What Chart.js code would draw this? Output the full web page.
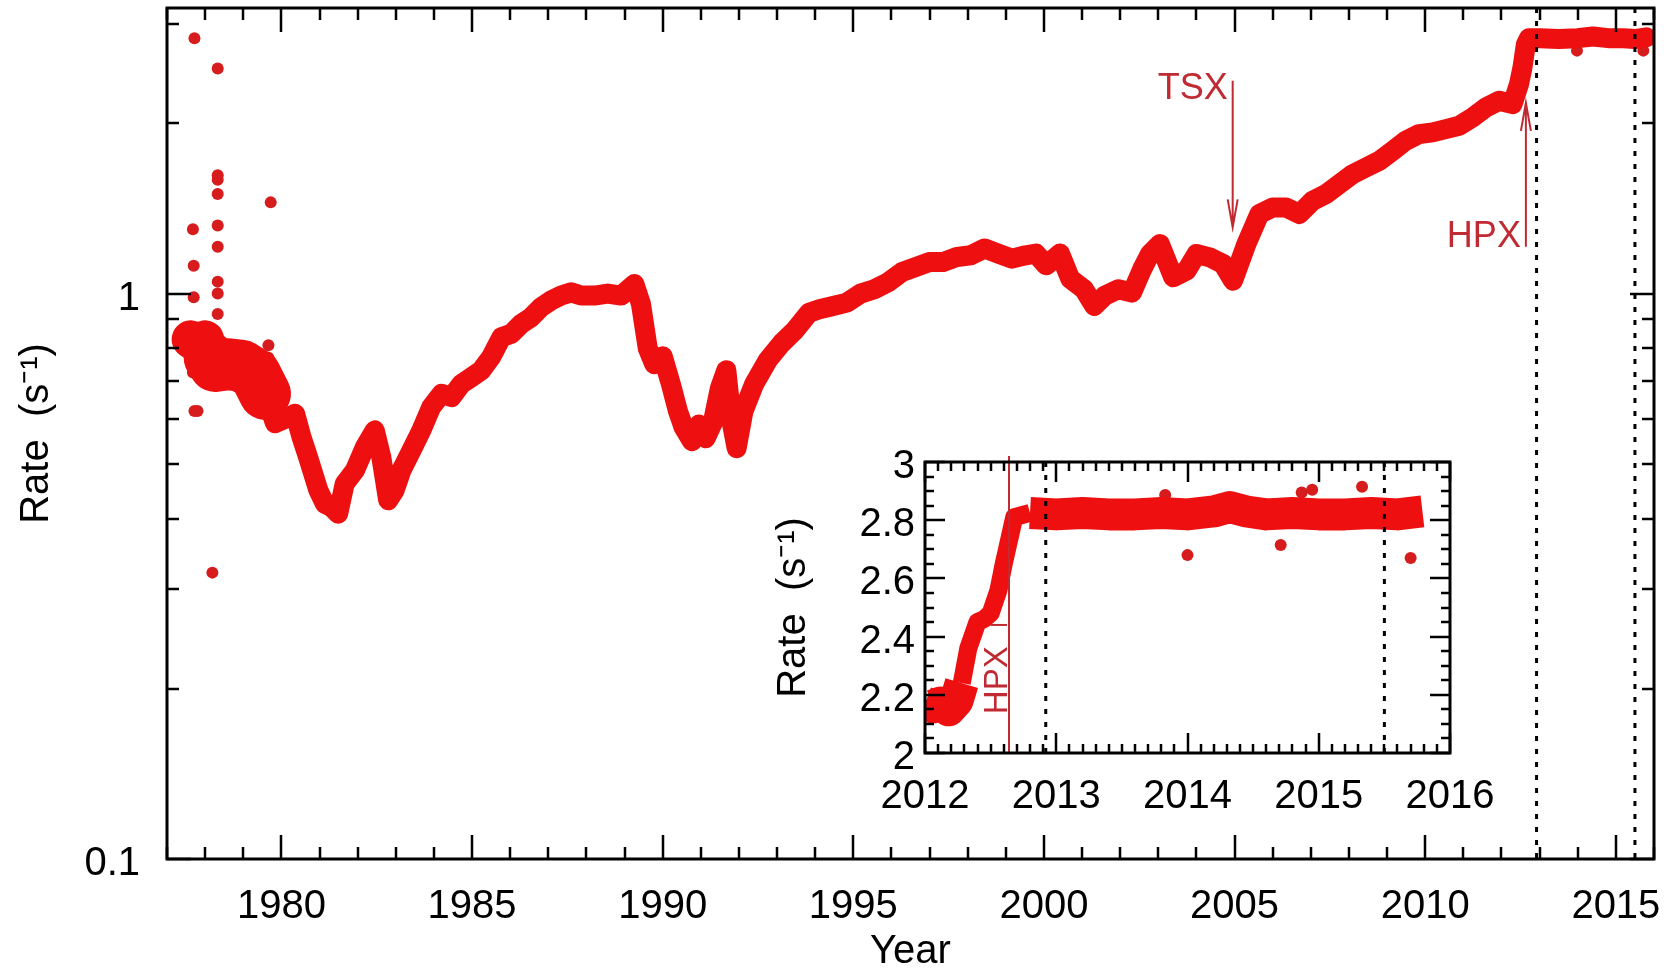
<!DOCTYPE html>
<html>
<head>
<meta charset="utf-8">
<script src="https://cdn.jsdelivr.net/npm/chart.js@4.4.0/dist/chart.umd.min.js"></script>
<style>
  body { margin: 0; background: #fff; }
  #wrap { position: relative; width: 1677px; height: 972px; }
  #main { position: absolute; left: 0; top: 0; }
  #inset { position: absolute; left: 760px; top: 440px; }
</style>
</head>
<body>
<div id="wrap">
  <canvas id="main" width="1677" height="972"></canvas>
  <canvas id="inset" width="760" height="390"></canvas>
</div>
<script>
// ---- main light curve (year, count rate) ----
var bandYears = [1977.62, 1977.74, 1978.0, 1978.12, 1978.26, 1978.61, 1978.96, 1979.31, 1979.57, 1979.83,
  1980.09, 1980.36, 1980.53, 1980.70, 1980.97, 1981.14, 1981.32, 1981.49, 1981.66, 1981.93,
  1982.19, 1982.45, 1982.62, 1982.80, 1982.97, 1983.15, 1983.41, 1983.67, 1983.93, 1984.20,
  1984.46, 1984.72, 1984.98, 1985.24, 1985.50, 1985.77, 1986.03, 1986.29, 1986.55, 1986.81,
  1987.07, 1987.34, 1987.60, 1987.86, 1988.21, 1988.56, 1988.91, 1989.26, 1989.43, 1989.61,
  1989.78, 1990.0, 1990.22, 1990.40, 1990.55, 1990.77, 1990.95, 1991.13, 1991.31, 1991.50,
  1991.67, 1991.82, 1991.94, 1992.12, 1992.40, 1992.76, 1993.12, 1993.48, 1993.84, 1994.11,
  1994.47, 1994.83, 1995.19, 1995.55, 1995.91, 1996.27, 1996.63, 1996.99, 1997.35, 1997.72,
  1998.08, 1998.44, 1998.80, 1999.16, 1999.52, 1999.79, 2000.06, 2000.42, 2000.69, 2001.05,
  2001.32, 2001.59, 2001.95, 2002.31, 2002.58, 2002.78, 2003.04, 2003.39, 2003.74, 2004.00,
  2004.35, 2004.70, 2004.96, 2005.31, 2005.65, 2006.00, 2006.35, 2006.70, 2007.05, 2007.40,
  2007.75, 2008.10, 2008.45, 2008.80, 2009.15, 2009.49, 2009.84, 2010.19, 2010.54, 2010.89,
  2011.24, 2011.59, 2011.94, 2012.29, 2012.46, 2012.55, 2012.64, 2012.72, 2013.0, 2013.5,
  2014.0, 2014.4, 2014.8, 2015.2, 2015.5, 2015.8];
var bandRates = [0.83, 0.82, 0.83, 0.77, 0.745, 0.75, 0.745, 0.72, 0.665, 0.59,
  0.60, 0.613, 0.557, 0.514, 0.449, 0.425, 0.419, 0.408, 0.461, 0.487,
  0.535, 0.573, 0.514, 0.431, 0.449, 0.487, 0.528, 0.573, 0.630, 0.665,
  0.656, 0.692, 0.711, 0.731, 0.772, 0.837, 0.849, 0.884, 0.908, 0.946,
  0.972, 0.992, 1.005, 0.992, 0.992, 1.0, 0.992, 1.04, 0.959, 0.80,
  0.75, 0.775, 0.69, 0.62, 0.58, 0.548, 0.587, 0.555, 0.59, 0.68,
  0.732, 0.587, 0.533, 0.62, 0.692, 0.763, 0.817, 0.863, 0.925, 0.938,
  0.951, 0.964, 1.0, 1.018, 1.047, 1.091, 1.114, 1.137, 1.137, 1.161,
  1.169, 1.202, 1.177, 1.153, 1.169, 1.177, 1.122, 1.177, 1.062, 1.018,
  0.951, 0.991, 1.018, 1.004, 1.106, 1.175, 1.224, 1.069, 1.098, 1.175,
  1.159, 1.128, 1.054, 1.224, 1.383, 1.420, 1.420, 1.383, 1.460, 1.500,
  1.562, 1.627, 1.672, 1.718, 1.789, 1.864, 1.915, 1.928, 1.954, 1.981,
  2.049, 2.134, 2.193, 2.163, 2.347, 2.51, 2.76, 2.83, 2.83, 2.82,
  2.83, 2.85, 2.83, 2.83, 2.82, 2.84];

// isolated points off the band
var outlierYears = [1977.72, 1978.33, 1978.33, 1978.33, 1978.33, 1978.33, 1978.33, 1978.33, 1978.33, 1978.33,
  1979.72, 1977.68, 1977.70, 1977.70, 1977.68, 1977.72, 1977.80, 1978.19, 1979.66, 1979.66,
  1979.66, 1979.66, 2013.98, 2015.72];
var outlierRates = [2.83, 2.50, 1.62, 1.59, 1.50, 1.32, 1.21, 1.05, 1.0, 0.92,
  1.45, 1.30, 1.12, 0.985, 0.725, 0.62, 0.62, 0.321, 0.81, 0.77,
  0.74, 0.70, 2.69, 2.69];

// axis ticks
var xMajorTicks = [1980, 1985, 1990, 1995, 2000, 2005, 2010, 2015];
var xMinorTicks = [];
for (var yr = 1977; yr <= 2016; yr++) if (yr % 5 !== 0) xMinorTicks.push(yr);
var yMajorTicks = [0.1, 1];
var yMinorTicks = [0.2, 0.3, 0.4, 0.5, 0.6, 0.7, 0.8, 0.9, 2, 3];

// dotted markers and the two instrument arrows
var markerYears = [2012.92, 2015.5];
var tsxArrow = { year: 2004.95, from: 2.38, to: 1.31, text: 2.30 };
var hpxArrow = { year: 2012.64, from: 1.21, to: 2.175, text: 1.26 };

// ---- inset 2012-2016 ----
var insetYears = [2012.0, 2012.06, 2012.12, 2012.18, 2012.24, 2012.28, 2012.33, 2012.40, 2012.45, 2012.50,
  2012.56, 2012.60, 2012.64, 2012.68, 2012.8, 2013.0, 2013.2, 2013.4, 2013.6, 2013.8,
  2014.0, 2014.2, 2014.32, 2014.45, 2014.6, 2014.8, 2015.0, 2015.2, 2015.4, 2015.6, 2015.79];
var insetRates = [2.17, 2.16, 2.17, 2.15, 2.18, 2.24, 2.36, 2.45, 2.46, 2.48,
  2.56, 2.65, 2.73, 2.81, 2.825, 2.82, 2.825, 2.82, 2.82, 2.825,
  2.82, 2.83, 2.845, 2.83, 2.82, 2.825, 2.82, 2.82, 2.825, 2.82, 2.83];
var insetOutYears = [2013.83, 2014.0, 2014.71, 2014.87, 2014.95, 2015.33, 2015.70];
var insetOutRates = [2.887, 2.68, 2.715, 2.895, 2.905, 2.915, 2.67];
var insetXTicks = [2012, 2013, 2014, 2015, 2016];
var insetXMinor = [];
for (var m = 2012; m < 2016; m += 0.1) insetXMinor.push(+m.toFixed(1));
var insetYTicks = [2, 2.2, 2.4, 2.6, 2.8, 3];
var insetYMinor = [];
for (var r = 2; r < 3; r += 0.05) insetYMinor.push(+r.toFixed(2));
var insetHpxYear = 2012.64;

var FONT = "'Liberation Sans', Arial, Helvetica, sans-serif";
var RED = '#ee1010';
var DOT = '#d61c1c';
var NOTE = '#c02a32';

function pts(xs, ys) {
  return xs.map(function (x, i) { return { x: x, y: ys[i] }; });
}

// box + inward ticks on all four sides
var framePlugin = {
  id: 'frame',
  afterDatasetsDraw: function (chart, args, o) {
    var ctx = chart.ctx, a = chart.chartArea, sx = chart.scales.x, sy = chart.scales.y;
    ctx.save();
    ctx.strokeStyle = '#000';
    ctx.lineWidth = o.tickWidth;
    ctx.beginPath();
    function xt(vals, len) {
      vals.forEach(function (v) {
        var p = Math.round(sx.getPixelForValue(v));
        ctx.moveTo(p, a.bottom); ctx.lineTo(p, a.bottom - len);
        ctx.moveTo(p, a.top); ctx.lineTo(p, a.top + len);
      });
    }
    function yt(vals, len) {
      vals.forEach(function (v) {
        var p = Math.round(sy.getPixelForValue(v));
        ctx.moveTo(a.left, p); ctx.lineTo(a.left + len, p);
        ctx.moveTo(a.right, p); ctx.lineTo(a.right - len, p);
      });
    }
    xt(o.xMajor, o.majorLen); xt(o.xMinor, o.minorLen);
    yt(o.yMajor, o.majorLen); yt(o.yMinor, o.minorLen);
    ctx.stroke();
    ctx.lineWidth = o.lineWidth;
    ctx.strokeRect(a.left, a.top, a.right - a.left, a.bottom - a.top);
    ctx.restore();
  }
};

function dotted(chart, years) {
  var ctx = chart.ctx, a = chart.chartArea, sx = chart.scales.x;
  ctx.save();
  ctx.strokeStyle = '#000';
  ctx.lineWidth = 3;
  ctx.setLineDash([5, 8]);
  years.forEach(function (v) {
    var p = sx.getPixelForValue(v);
    ctx.beginPath(); ctx.moveTo(p, a.top); ctx.lineTo(p, a.bottom); ctx.stroke();
  });
  ctx.restore();
}

function arrow(ctx, x, y0, y1) {
  var dir = y1 > y0 ? 1 : -1;
  ctx.beginPath();
  ctx.moveTo(x, y0); ctx.lineTo(x, y1);
  ctx.moveTo(x - 5, y1 - dir * 28); ctx.lineTo(x, y1); ctx.lineTo(x + 5, y1 - dir * 28);
  ctx.stroke();
}

var mainMarks = {
  id: 'mainMarks',
  afterDatasetsDraw: function (chart) {
    var ctx = chart.ctx, sx = chart.scales.x, sy = chart.scales.y;
    dotted(chart, markerYears);
    ctx.save();
    ctx.strokeStyle = NOTE; ctx.fillStyle = NOTE; ctx.lineWidth = 2;
    ctx.font = '36px ' + FONT;
    ctx.textAlign = 'right'; ctx.textBaseline = 'middle';
    [tsxArrow, hpxArrow].forEach(function (a, i) {
      var x = sx.getPixelForValue(a.year);
      arrow(ctx, x, sy.getPixelForValue(a.from), sy.getPixelForValue(a.to));
      ctx.fillText(i === 0 ? 'TSX' : 'HPX', x - 5, sy.getPixelForValue(a.text));
    });
    ctx.restore();
  }
};

var insetMarks = {
  id: 'insetMarks',
  afterDatasetsDraw: function (chart) {
    var ctx = chart.ctx, a = chart.chartArea, sx = chart.scales.x, sy = chart.scales.y;
    dotted(chart, markerYears);
    var x = sx.getPixelForValue(insetHpxYear);
    ctx.save();
    ctx.strokeStyle = NOTE; ctx.fillStyle = NOTE; ctx.lineWidth = 2;
    ctx.beginPath(); ctx.moveTo(x, a.top - 6); ctx.lineTo(x, a.bottom); ctx.stroke();
    ctx.beginPath();
    ctx.moveTo(sx.getPixelForValue(2012.50), sy.getPixelForValue(2.44));
    ctx.lineTo(sx.getPixelForValue(2012.625), sy.getPixelForValue(2.44));
    ctx.stroke();
    ctx.translate(sx.getPixelForValue(2012.556), sy.getPixelForValue(2.25));
    ctx.rotate(-Math.PI / 2);
    ctx.font = '33px ' + FONT;
    ctx.textAlign = 'center'; ctx.textBaseline = 'middle';
    ctx.fillText('HPX', 0, 0);
    ctx.restore();
  }
};

function tickFont(size, lh) { return { family: FONT, size: size, lineHeight: lh || 1.2 }; }

// vertical axes: no extra room for half-labels, the frame sits where the figure has it
function noPad(s) { s.paddingTop = 0; s.paddingBottom = 0; s.paddingLeft = 0; s.paddingRight = 0; }

var mainConfig = {
  type: 'scatter',
  data: {
    datasets: [{
      data: pts(bandYears, bandRates),
      showLine: true,
      borderColor: RED,
      backgroundColor: RED,
      borderWidth: 20,
      borderJoinStyle: 'round',
      borderCapStyle: 'round',
      pointRadius: 0,
      segment: {
        // scatter of the early data is much wider than later on
        borderWidth: function (c) {
          var x = c.p0.parsed.x;
          return x < 1978.1 ? 38 : (x < 1979.4 ? 52 : 20);
        }
      }
    }, {
      data: pts(outlierYears, outlierRates),
      pointRadius: 6,
      pointBackgroundColor: DOT,
      pointBorderWidth: 0
    }]
  },
  options: {
    responsive: false,
    animation: false,
    layout: { padding: { top: 8, right: 23, left: 0, bottom: 0 } },
    plugins: {
      legend: { display: false },
      tooltip: { enabled: false },
      frame: { xMajor: xMajorTicks, xMinor: xMinorTicks, yMajor: yMajorTicks, yMinor: yMinorTicks,
               majorLen: 24, minorLen: 12, lineWidth: 3, tickWidth: 2.5 }
    },
    scales: {
      x: {
        type: 'linear', min: 1977, max: 2016,
        grid: { display: false, drawTicks: false },
        border: { display: false },
        afterBuildTicks: function (s) { s.ticks = xMajorTicks.map(function (v) { return { value: v }; }); },
        afterFit: function (s) { s.height = 113; noPad(s); },
        ticks: { font: tickFont(40), color: '#000', padding: 24, maxRotation: 0, autoSkip: false,
                 callback: function (v) { return String(v); } },
        title: { display: true, text: 'Year', color: '#000', font: tickFont(40, 1), padding: { top: 0, bottom: 0 } }
      },
      y: {
        type: 'logarithmic', min: 0.1, max: 3.2,
        grid: { display: false, drawTicks: false },
        border: { display: false },
        afterBuildTicks: function (s) { s.ticks = yMajorTicks.map(function (v) { return { value: v }; }); },
        afterFit: function (s) { s.width = 167; noPad(s); },
        ticks: { font: tickFont(40), color: '#000', padding: 27, labelOffset: 5,
                 callback: function (v) { return String(v); } },
        title: { display: true, text: 'Rate  (s\u207B\u00B9)', color: '#000', font: tickFont(40, 1), padding: { top: 17, bottom: 0 } }
      }
    }
  },
  plugins: [mainMarks, framePlugin]
};

var insetConfig = {
  type: 'scatter',
  data: {
    datasets: [{
      data: pts(insetYears, insetRates),
      showLine: true,
      borderColor: RED,
      backgroundColor: RED,
      borderWidth: 32,
      borderJoinStyle: 'round',
      borderCapStyle: 'butt',
      pointRadius: 0,
      segment: {
        borderWidth: function (c) { return c.p0.parsed.x < 2012.27 ? 34 : (c.p0.parsed.x < 2012.7 ? 18 : 32); }
      }
    }, {
      data: pts(insetOutYears, insetOutRates),
      pointRadius: 6,
      pointBackgroundColor: DOT,
      pointBorderWidth: 0
    }]
  },
  options: {
    responsive: false,
    animation: false,
    layout: { padding: { top: 22, right: 70, left: 0, bottom: 0 } },
    plugins: {
      legend: { display: false },
      tooltip: { enabled: false },
      frame: { xMajor: insetXTicks, xMinor: insetXMinor, yMajor: insetYTicks, yMinor: insetYMinor,
               majorLen: 20, minorLen: 9, lineWidth: 3, tickWidth: 2.5 }
    },
    scales: {
      x: {
        type: 'linear', min: 2012, max: 2016,
        grid: { display: false, drawTicks: false },
        border: { display: false },
        afterBuildTicks: function (s) { s.ticks = insetXTicks.map(function (v) { return { value: v }; }); },
        afterFit: function (s) { s.height = 77; noPad(s); },
        ticks: { font: tickFont(40), color: '#000', padding: 20, maxRotation: 0, autoSkip: false,
                 callback: function (v) { return String(v); } }
      },
      y: {
        type: 'linear', min: 2, max: 3,
        grid: { display: false, drawTicks: false },
        border: { display: false },
        afterBuildTicks: function (s) { s.ticks = insetYTicks.map(function (v) { return { value: v }; }); },
        afterFit: function (s) { s.width = 165; noPad(s); },
        ticks: { font: tickFont(40), color: '#000', padding: 10, labelOffset: 5,
                 callback: function (v) { return String(v); } },
        title: { display: true, text: 'Rate  (s\u207B\u00B9)', color: '#000', font: tickFont(40, 1), padding: { top: 14, bottom: 0 } }
      }
    }
  },
  plugins: [insetMarks, framePlugin]
};

new Chart(document.getElementById('main').getContext('2d'), mainConfig);
new Chart(document.getElementById('inset').getContext('2d'), insetConfig);
</script>
</body>
</html>
